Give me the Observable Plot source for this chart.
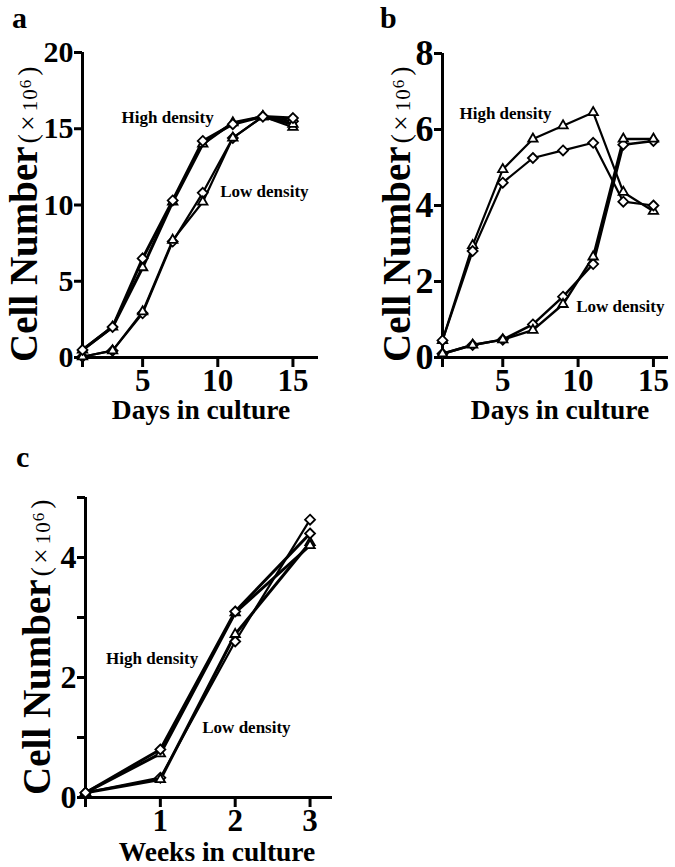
<!DOCTYPE html>
<html><head><meta charset="utf-8">
<script src="https://cdn.jsdelivr.net/npm/d3@7"></script>
<script src="https://cdn.jsdelivr.net/npm/@observablehq/plot@0.6"></script>
<style>
body{margin:0;background:#fff;}
#root{position:relative;width:675px;height:867px;background:#fff;overflow:hidden;}
</style></head><body><div id="root"></div>
<script>
// ---- data ----
const days = [1, 3, 5, 7, 9, 11, 13, 15];
const weeks = [0, 1, 2, 3];

const aHighDiamond  = [0.5, 2.0, 6.5, 10.3, 14.2, 15.3, 15.8, 15.7];
const aHighTriangle = [0.5, 2.0, 5.9, 10.2, 14.0, 15.4, 15.8, 15.3];
const aLowDiamond   = [0.05, 0.45, 2.9, 7.6, 10.8, 14.4, 15.8, 15.5];
const aLowTriangle  = [0.05, 0.45, 3.0, 7.7, 10.2, 14.4, 15.8, 15.1];

const bHighTriangle = [0.45, 2.95, 4.95, 5.75, 6.1, 6.45, 4.35, 3.85];
const bHighDiamond  = [0.45, 2.8, 4.6, 5.25, 5.45, 5.65, 4.1, 4.0];
const bLowDiamond   = [0.1, 0.33, 0.47, 0.87, 1.6, 2.46, 5.6, 5.7];
const bLowTriangle  = [0.1, 0.33, 0.47, 0.72, 1.4, 2.65, 5.75, 5.75];

const cHighDiamond  = [0.08, 0.8, 3.1, 4.4];
const cHighTriangle = [0.08, 0.73, 3.08, 4.2];
const cLowDiamond   = [0.08, 0.33, 2.6, 4.63];
const cLowTriangle  = [0.08, 0.3, 2.72, 4.25];

const aYTicks = [0, 5, 10, 15, 20];
const bYTicks = [0, 2, 4, 6, 8];
const cYTicks = [0, 1, 2, 3, 4, 5];
const cYLabels = [0, 2, 4];
const abXTicks = [1, 5, 10, 15];
const abXLabels = [5, 10, 15];
const cXTicks = [0, 1, 2, 3];
const cXLabels = [1, 2, 3];

const aNotes = [{x: 6.66, y: 15.74, text: "High density"}, {x: 13.1, y: 10.9, text: "Low density"}];
const bNotes = [{x: 5.18, y: 6.42, text: "High density"}, {x: 12.8, y: 1.34, text: "Low density"}];
const cNotes = [{x: 0.89, y: 2.32, text: "High density"}, {x: 2.15, y: 1.17, text: "Low density"}];

const FONT = "Liberation Serif";

function makePanel(cfg) {
  const lineMarks = [], dotMarks = [];
  for (const s of cfg.series) {
    const rows = s.values.map((v, i) => ({x: cfg.xs[i], y: v}));
    lineMarks.push(Plot.line(rows, {x: "x", y: "y", stroke: "black", strokeWidth: s.w}));
    dotMarks.push(Plot.dot(rows, {x: "x", y: "y", symbol: s.symbol, r: 4.5, fill: "white", stroke: "black", strokeWidth: 1.8}));
  }
  const svg = Plot.plot({
    width: cfg.width, height: cfg.height,
    marginLeft: cfg.ml, marginRight: cfg.mr, marginTop: cfg.mt, marginBottom: cfg.mb,
    x: {domain: cfg.xDomain}, y: {domain: cfg.yDomain},
    style: {background: "transparent", overflow: "visible", color: "black"},
    marks: [
      Plot.axisX({ticks: cfg.xTicks, tickFormat: d => cfg.xLabels.includes(d) ? String(d) : "",
        tickSize: 10, tickPadding: 1, strokeWidth: 3, fontSize: 31, fontWeight: "bold", fontFamily: FONT, label: null}),
      Plot.axisY({ticks: cfg.yTicks, tickFormat: d => cfg.yLabels.includes(d) ? String(d) : "",
        tickSize: 8, tickPadding: 1, strokeWidth: 3, fontSize: cfg.yFont, fontWeight: "bold", fontFamily: FONT, label: null}),
      Plot.ruleX([cfg.xDomain[0]], {strokeWidth: 3}),
      Plot.ruleY([0], {strokeWidth: 3}),
      ...lineMarks,
      ...dotMarks,
      Plot.text(cfg.notes, {x: "x", y: "y", text: "text", fontSize: 17, fontWeight: "bold", fontFamily: FONT, fill: "black"})
    ]
  });
  svg.setAttribute("font-family", FONT);
  const s = d3.select(svg);
  // panel letter
  s.append("text").attr("x", cfg.letter[0]).attr("y", cfg.letter[1]).attr("text-anchor", "start")
    .attr("font-size", 30).attr("font-weight", "bold").text(cfg.letter[2]);
  // x title
  s.append("text").attr("x", cfg.xTitle[0]).attr("y", cfg.xTitle[1]).attr("text-anchor", "middle")
    .attr("font-size", 27.5).attr("font-weight", "bold").text(cfg.xTitle[2]);
  // y title
  const t = s.append("text").attr("transform", `translate(${cfg.yTitle[0]},${cfg.yTitle[1]}) rotate(-90)`)
    .attr("text-anchor", "start");
  t.append("tspan").attr("font-size", 39).attr("font-weight", "bold").text("Cell Number");
  t.append("tspan").attr("font-size", 28).attr("dx", 3).text("(");
  t.append("tspan").attr("font-size", 28).attr("dx", 3).text("×");
  t.append("tspan").attr("font-size", 21).attr("dx", 4).attr("letter-spacing", 1).text("10");
  t.append("tspan").attr("font-size", 17).attr("dy", -6).text("6");
  t.append("tspan").attr("font-size", 28).attr("dx", 4).attr("dy", 6).text(")");
  s.selectAll("text").attr("font-family", FONT).style("font-family", FONT);
  svg.style.position = "absolute";
  svg.style.left = cfg.left + "px";
  svg.style.top = cfg.top + "px";
  document.getElementById("root").appendChild(svg);
}

makePanel({
  left: 0, top: 0, width: 340, height: 430, ml: 82, mr: 22, mt: 52, mb: 73,
  xDomain: [1, 16.7], yDomain: [0, 20], xs: days, yFont: 30,
  xTicks: abXTicks, xLabels: abXLabels, yTicks: aYTicks, yLabels: aYTicks,
  series: [
    {values: aLowDiamond, symbol: "diamond2", w: 2.2},
    {values: aLowTriangle, symbol: "triangle2", w: 2.2},
    {values: aHighTriangle, symbol: "triangle2", w: 3},
    {values: aHighDiamond, symbol: "diamond2", w: 3}
  ],
  notes: aNotes, letter: [12, 28, "a"], xTitle: [201, 419, "Days in culture"], yTitle: [37, 362]
});

makePanel({
  left: 340, top: 0, width: 335, height: 430, ml: 102, mr: 7, mt: 53, mb: 73,
  xDomain: [1, 16], yDomain: [0, 8], xs: days, yFont: 36,
  xTicks: abXTicks, xLabels: abXLabels, yTicks: bYTicks, yLabels: bYTicks,
  series: [
    {values: bLowDiamond, symbol: "diamond2", w: 2.5},
    {values: bLowTriangle, symbol: "triangle2", w: 2.5},
    {values: bHighTriangle, symbol: "triangle2", w: 2.2},
    {values: bHighDiamond, symbol: "diamond2", w: 2.2}
  ],
  notes: bNotes, letter: [40, 28, "b"], xTitle: [220, 419, "Days in culture"], yTitle: [70, 362]
});

makePanel({
  left: 0, top: 430, width: 340, height: 437, ml: 85, mr: 8, mt: 67, mb: 70,
  xDomain: [0, 3.3], yDomain: [0, 5], xs: weeks, yFont: 32,
  xTicks: cXTicks, xLabels: cXLabels, yTicks: cYTicks, yLabels: cYLabels,
  series: [
    {values: cLowDiamond, symbol: "diamond2", w: 2.2},
    {values: cLowTriangle, symbol: "triangle2", w: 3},
    {values: cHighTriangle, symbol: "triangle2", w: 3},
    {values: cHighDiamond, symbol: "diamond2", w: 3}
  ],
  notes: cNotes, letter: [16, 37, "c"], xTitle: [217, 431, "Weeks in culture"], yTitle: [50, 365]
});
</script></body></html>
